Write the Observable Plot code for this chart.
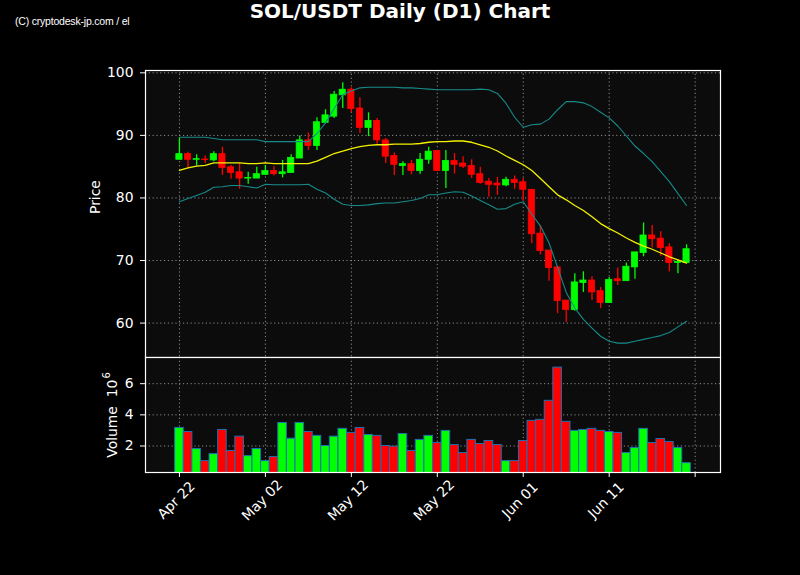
<!DOCTYPE html>
<html><head><meta charset="utf-8">
<script src="https://cdn.jsdelivr.net/npm/d3@7"></script>
<script src="https://cdn.jsdelivr.net/npm/@observablehq/plot@0.6"></script>
<style>
html,body{margin:0;padding:0;background:#000;}
#root{position:relative;width:800px;height:575px;background:#000;overflow:hidden;font-family:"DejaVu Sans",sans-serif;}
#title{position:absolute;left:0;width:800px;top:0;text-align:center;color:#fff;font-weight:bold;font-size:20px;line-height:22px;}
#wm{position:absolute;left:15px;top:15px;color:#fff;font-family:"Liberation Sans Narrow","Liberation Sans",sans-serif;font-size:10.5px;line-height:12px;letter-spacing:-0.2px;}
#vlabel{position:absolute;left:110px;top:415px;transform:translate(-50%,-50%) rotate(-90deg);color:#fff;font-size:13.9px;line-height:14px;white-space:nowrap;}
#vlabel sup{font-size:10px;position:relative;top:-1px;margin-left:1px;}
#price{position:absolute;left:0;top:0;}
#vol{position:absolute;left:0;top:357px;}
</style></head>
<body><div id="root"><div id="price"></div><div id="vol"></div><div id="title">SOL/USDT Daily (D1) Chart</div><div id="wm">(C) cryptodesk-jp.com / el</div><div id="vlabel">Volume&nbsp;&nbsp;10<sup>6</sup></div></div>
<script>
// ---- data ----
const startDate = "2023-04-22";
const opens  = [86.1,87.0,86.1,86.15,86.0,87.0,84.9,84.1,83.1,83.1,83.7,84.3,83.8,84.0,86.3,89.2,88.3,92.0,93.0,96.4,97.3,94.3,91.2,92.3,89.2,86.7,85.1,85.4,84.3,86.1,87.5,84.3,85.9,85.5,85.1,83.8,82.6,82.3,82.0,82.9,82.5,81.3,74.3,71.6,68.9,63.6,62.1,66.4,66.8,65.1,63.2,67.0,66.7,68.9,71.2,74.0,73.5,72.1,69.6,69.6];
const highs  = [89.6,87.3,86.9,86.7,87.4,88.1,85.2,85.5,84.1,84.9,85.2,85.0,86.0,86.9,89.9,90.4,92.8,94.1,97.0,98.4,97.6,96.0,93.6,92.7,89.5,87.2,85.8,86.0,87.1,88.1,87.6,87.6,87.1,86.6,86.1,84.9,83.1,83.3,83.3,83.5,83.1,81.3,75.6,71.6,69.1,63.6,67.9,68.2,67.4,65.7,67.3,68.8,69.6,71.3,76.0,75.6,74.6,72.7,69.8,72.5];
const lows   = [86.1,84.8,85.1,85.5,85.8,83.6,83.0,81.4,82.2,83.1,83.6,83.5,83.2,84.0,86.3,87.6,87.6,92.0,92.7,94.3,93.6,90.3,89.8,88.6,85.5,83.6,83.6,83.7,83.8,85.4,84.3,81.5,83.8,84.7,83.1,82.2,80.1,80.4,81.8,81.4,79.5,72.7,70.9,66.7,61.5,60.1,61.9,64.9,63.6,62.3,63.2,66.0,66.7,67.0,70.6,72.0,70.7,68.2,67.9,69.6];
const closes = [87.0,86.1,86.2,86.05,87.0,84.8,84.0,83.1,83.2,83.8,84.3,83.8,84.1,86.4,89.2,88.3,92.1,93.2,96.5,97.3,94.2,91.2,92.3,89.2,86.6,85.3,85.4,84.3,86.1,87.4,84.3,85.9,85.3,85.0,83.7,82.4,82.1,82.0,82.9,82.4,81.3,74.2,71.5,68.8,63.5,62.1,66.5,66.8,64.9,63.2,66.9,66.7,69.0,71.3,74.0,73.4,72.0,69.6,69.8,71.8];
const bbUpper = [89.7,89.7,89.7,89.7,89.5,89.3,89.3,89.3,89.3,89.3,89.0,89.0,89.0,89.0,89.0,89.0,90.3,92.0,94.3,96.5,97.1,97.6,97.7,97.7,97.7,97.7,97.6,97.6,97.5,97.4,97.3,97.3,97.3,97.3,97.3,97.4,97.3,96.7,95.1,92.9,91.3,91.7,91.8,92.6,94.1,95.4,95.4,95.2,94.6,93.7,92.8,91.5,89.9,88.3,87.1,85.8,84.2,82.6,80.7,78.8];
const bbMid   = [84.4,84.8,85.1,85.2,85.6,85.6,85.6,85.6,85.5,85.5,85.6,85.5,85.5,85.5,85.5,85.5,85.9,86.5,87.1,87.5,87.9,88.2,88.4,88.5,88.5,88.6,88.6,88.6,88.7,88.9,89.0,89.0,89.1,89.1,88.9,88.5,88.1,87.5,86.7,86.0,85.3,84.4,83.1,81.8,80.5,79.7,78.8,78.0,77.0,75.9,75.1,74.4,73.6,72.9,72.3,71.8,71.2,70.6,70.1,69.6];
const bbLower = [79.4,79.9,80.4,80.9,81.7,81.8,82.0,82.0,81.8,81.6,82.2,82.1,82.1,82.1,82.1,82.2,81.4,80.8,79.8,79.0,78.8,78.8,78.9,79.1,79.2,79.2,79.4,79.6,79.9,80.5,80.5,80.8,81.0,80.9,80.3,79.6,78.9,78.2,78.3,79.0,79.4,77.4,75.5,72.8,68.9,64.9,62.4,60.6,59.2,57.9,57.1,56.8,56.8,57.1,57.4,57.7,58.0,58.5,59.4,60.3];
const volumes = [3.16,2.90,1.81,1.03,1.48,3.03,1.68,2.60,1.35,1.81,1.03,1.29,3.48,2.47,3.48,2.90,2.65,2.00,2.60,3.10,2.84,3.16,2.71,2.65,2.00,1.96,2.77,1.68,2.39,2.65,2.19,2.97,2.06,1.55,2.39,2.13,2.32,2.06,1.03,1.03,2.32,3.61,3.68,4.90,7.03,3.55,2.97,3.03,3.10,2.97,2.90,2.84,1.55,1.87,3.10,2.19,2.45,2.26,1.87,0.90]; // x 10^6
const xTicks = ["2023-04-22","2023-05-02","2023-05-12","2023-05-22","2023-06-01","2023-06-11","2023-06-21"];
const xTickLabels = ["Apr 22","May 02","May 12","May 22","Jun 01","Jun 11",""];
const priceTicks = [60,70,80,90,100];
const volumeTicks = [2,4,6];

// ---- build ----
const DAY = 864e5;
const UP = "#00ff00", DOWN = "#ff0000";
const FS = 13.9;
const t0 = new Date(startDate + "T00:00:00Z");
const rows = opens.map((o, i) => ({
  date: d3.utcDay.offset(t0, i),
  open: o, high: highs[i], low: lows[i], close: closes[i],
  upper: bbUpper[i], mid: bbMid[i], lower: bbLower[i],
  volume: volumes[i], up: closes[i] >= o
}));
const tickDates = xTicks.map(s => new Date(s + "T00:00:00Z"));
const tickRows = tickDates.map((d, i) => ({date: d, label: xTickLabels[i]}));
const xDomain = [new Date(+rows[0].date - 3.95 * DAY), new Date(+rows[rows.length - 1].date + 3.95 * DAY)];
const gridStyle = {stroke: "#9a9a9a", strokeOpacity: 1, strokeWidth: 0.9, strokeDasharray: "1.2,2.6"};
const baseStyle = {background: "transparent", color: "white", fontFamily: "DejaVu Sans, sans-serif", fontSize: FS + "px", overflow: "visible"};
const BAND = "#178a8a", MID = "#f2f200";

const price = Plot.plot({
  width: 800, height: 357, marginTop: 70, marginBottom: 0, marginLeft: 145, marginRight: 80,
  style: baseStyle,
  x: {type: "utc", domain: xDomain, axis: null},
  y: {domain: [54.5, 100.37], axis: null},
  color: {type: "identity"},
  marks: [
    Plot.frame({fill: "#0c0c0c", stroke: null}),
    Plot.gridX(tickDates, gridStyle),
    Plot.gridY(priceTicks, gridStyle),
    Plot.ruleX(rows, {x: "date", y1: "low", y2: "high", stroke: d => d.up ? UP : DOWN, strokeWidth: 1.3}),
    Plot.rect(rows, {
      x1: d => new Date(+d.date - 0.36 * DAY), x2: d => new Date(+d.date + 0.36 * DAY),
      y1: "open", y2: "close",
      fill: d => d.up ? UP : DOWN, stroke: d => d.up ? UP : DOWN, strokeWidth: 0.8
    }),
    Plot.line(rows, {x: "date", y: "upper", stroke: BAND, strokeWidth: 1.1}),
    Plot.line(rows, {x: "date", y: "lower", stroke: BAND, strokeWidth: 1.1}),
    Plot.line(rows, {x: "date", y: "mid", stroke: MID, strokeWidth: 1.3}),
    Plot.axisY({ticks: priceTicks, tickSize: 5, tickPadding: 7, label: null, fontSize: FS}),
    Plot.text(["Price"], {frameAnchor: "left", dx: -50, rotate: -90, fill: "white", fontSize: FS}),
    Plot.frame({stroke: "white", strokeWidth: 1.2})
  ]
});
document.getElementById("price").appendChild(price);

const vol = Plot.plot({
  width: 800, height: 218, marginTop: 0, marginBottom: 103, marginLeft: 145, marginRight: 80,
  style: baseStyle,
  x: {type: "utc", domain: xDomain, axis: null},
  y: {domain: [0.3, 7.68], axis: null},
  color: {type: "identity"},
  marks: [
    Plot.frame({fill: "#0c0c0c", stroke: null}),
    Plot.gridX(tickDates, gridStyle),
    Plot.gridY(volumeTicks, gridStyle),
    Plot.rectY(rows, {
      x1: d => new Date(+d.date - 0.5 * DAY), x2: d => new Date(+d.date + 0.5 * DAY),
      y: "volume", fill: d => d.up ? UP : DOWN, stroke: "#1f6fb0", strokeWidth: 1, clip: true
    }),
    Plot.axisY({ticks: volumeTicks, tickSize: 5, tickPadding: 7, label: null, fontSize: FS}),
    Plot.axisX({ticks: tickDates, tickSize: 5, tickFormat: () => "", label: null}),
    Plot.text(tickRows, {x: "date", text: "label", frameAnchor: "bottom", dy: 31, rotate: -45, fill: "white", fontSize: FS}),
    Plot.frame({stroke: "white", strokeWidth: 1.2})
  ]
});
document.getElementById("vol").appendChild(vol);
</script>
</body></html>
